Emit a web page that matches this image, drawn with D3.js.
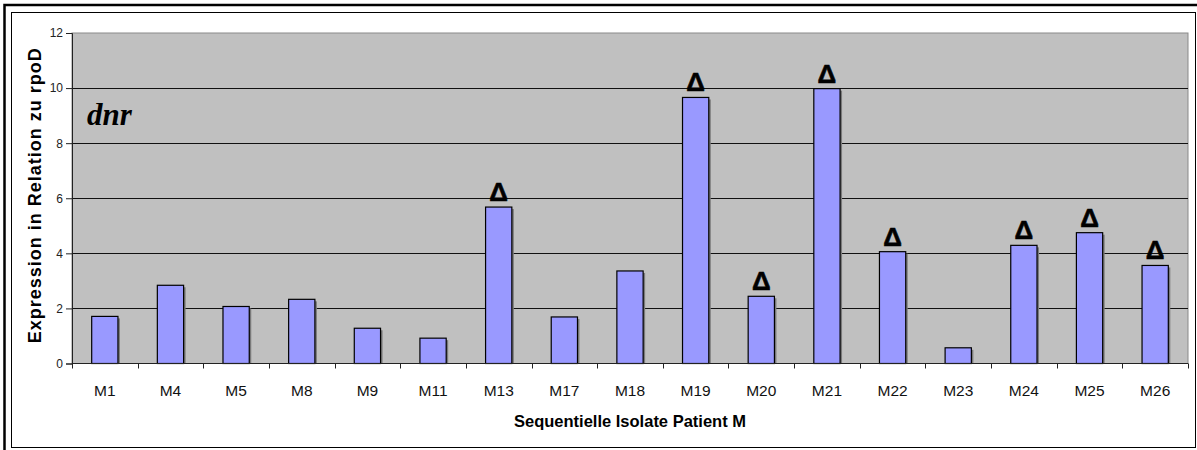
<!DOCTYPE html>
<html>
<head>
<meta charset="utf-8">
<script src="https://cdn.jsdelivr.net/npm/d3@7"></script>
<style>
  html, body { margin: 0; padding: 0; background: #fff; }
  svg { display: block; font-family: "Liberation Sans", Arial, sans-serif; }
</style>
</head>
<body>
<svg id="chart" width="1197" height="450"></svg>
<script>
const categories = ["M1","M4","M5","M8","M9","M11","M13","M17","M18","M19","M20","M21","M22","M23","M24","M25","M26"];
const values = [1.71, 2.84, 2.07, 2.33, 1.28, 0.92, 5.68, 1.69, 3.36, 9.66, 2.44, 9.98, 4.06, 0.57, 4.29, 4.75, 3.56];
const marked = ["M13","M19","M20","M21","M22","M24","M25","M26"];
const yTicks = [0, 2, 4, 6, 8, 10, 12];
const gridValues = [2, 4, 6, 8, 10];
const yTitle = "Expression in Relation zu rpoD";
const xTitle = "Sequentielle Isolate Patient M";
const geneLabel = "dnr";
const markSymbol = "\u0394";

const data = categories.map((c, i) => ({ cat: c, value: values[i], marked: marked.includes(c) }));

const svg = d3.select("#chart");
const pLeft = 72, pRight = 1188, pTop = 33, pBottom = 363.5;

// outer frames
svg.append("rect").attr("x", 4.5).attr("y", 5).attr("width", 1210).attr("height", 460)
  .attr("fill", "none").attr("stroke", "#000").attr("stroke-width", 2.5);
svg.append("rect").attr("x", 11.5).attr("y", 12.5).attr("width", 1184).attr("height", 435)
  .attr("fill", "#fff").attr("stroke", "#000").attr("stroke-width", 1);

const x = d3.scaleBand().domain(categories).range([pLeft, pRight]).paddingInner(0.6).paddingOuter(0.3);
const y = d3.scaleLinear().domain([0, 12]).range([pBottom, pTop]);

// plot area
svg.append("rect").attr("x", pLeft).attr("y", pTop).attr("width", pRight - pLeft).attr("height", pBottom - pTop)
  .attr("fill", "#c0c0c0").attr("stroke", "#8a8a8a").attr("stroke-width", 1);

// gridlines
svg.append("g").selectAll("line").data(gridValues).join("line")
  .attr("x1", pLeft).attr("x2", pRight)
  .attr("y1", d => Math.round(y(d)) + 0.5).attr("y2", d => Math.round(y(d)) + 0.5)
  .attr("stroke", "#111").attr("stroke-width", 1);

// bar shadows
svg.append("g").selectAll("rect").data(data).join("rect")
  .attr("x", d => x(d.cat) + 2).attr("y", d => y(d.value) + 2)
  .attr("width", x.bandwidth()).attr("height", d => pBottom - y(d.value) - 2)
  .attr("fill", "#7a7a7a");

// bars
svg.append("g").selectAll("rect").data(data).join("rect")
  .attr("x", d => x(d.cat)).attr("y", d => y(d.value))
  .attr("width", x.bandwidth()).attr("height", d => pBottom - y(d.value))
  .attr("fill", "#9999ff").attr("stroke", "#000").attr("stroke-width", 1.2);

// markers
svg.append("g").selectAll("text").data(data.filter(d => d.marked)).join("text")
  .attr("x", d => x(d.cat) + x.bandwidth() / 2)
  .attr("y", d => y(d.value) - 6)
  .attr("text-anchor", "middle")
  .attr("font-size", 26).attr("font-weight", "bold")
  .attr("stroke", "#000").attr("stroke-width", 0.6)
  .text(markSymbol);

// y axis
const yAxis = d3.axisLeft(y).tickValues(yTicks).tickSize(6).tickPadding(3).tickFormat(d3.format("d"));
const gy = svg.append("g").attr("transform", `translate(${pLeft},0)`).call(yAxis);
gy.attr("font-family", null);
gy.select(".domain").attr("stroke", "#222");
gy.selectAll(".tick line").attr("stroke", "#222");
gy.selectAll(".tick text").attr("font-size", 12).attr("fill", "#222");

// x axis: ticks at band boundaries
const gx = svg.append("g").attr("transform", `translate(0,${pBottom})`);
gx.append("line").attr("x1", pLeft).attr("x2", pRight).attr("y1", 0).attr("y2", 0).attr("stroke", "#222");
const boundaries = categories.map(c => x(c) + x.bandwidth() / 2 - x.step() / 2);
boundaries.push(pRight);
gx.selectAll("line.tk").data(boundaries).join("line").attr("class", "tk")
  .attr("x1", d => Math.round(d) + 0.5).attr("x2", d => Math.round(d) + 0.5)
  .attr("y1", 0).attr("y2", 5).attr("stroke", "#222");
gx.selectAll("text").data(categories).join("text")
  .attr("x", d => x(d) + x.bandwidth() / 2).attr("y", 32)
  .attr("text-anchor", "middle").attr("font-size", 15.5).attr("fill", "#111")
  .text(d => d);

// titles
svg.append("text").attr("x", (pLeft + pRight) / 2).attr("y", 427)
  .attr("text-anchor", "middle").attr("font-size", 16.5).attr("font-weight", "bold")
  .text(xTitle);
svg.append("text").attr("transform", `translate(41,${(pTop + pBottom) / 2 - 3}) rotate(-90)`)
  .attr("text-anchor", "middle").attr("font-size", 18).attr("font-weight", "bold")
  .attr("letter-spacing", 1)
  .text(yTitle);

svg.append("text").attr("x", 87).attr("y", 125)
  .style("font-family", "'Liberation Serif', 'Times New Roman', serif")
  .attr("font-size", 31).attr("font-weight", "bold").attr("font-style", "italic")
  .text(geneLabel);
</script>
</body>
</html>
